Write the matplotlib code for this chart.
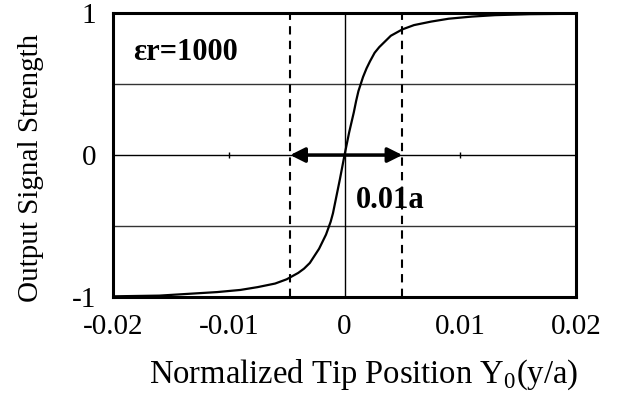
import numpy as np
from matplotlib import pyplot as plt

# curve
tip_pos = [-0.02, -0.016, -0.013, -0.011, -0.009, -0.0075, -0.006, -0.005, -0.004,
           -0.0035, -0.003, -0.0026, -0.0022, -0.0019, -0.0016, -0.0012, -0.001,
           -0.0008, -0.0006, -0.0004, -0.0002, 0.0, 0.0002, 0.0004, 0.0006, 0.0008,
           0.001, 0.0012, 0.0016, 0.0019, 0.0022, 0.0026, 0.003, 0.0035, 0.004,
           0.005, 0.006, 0.0075, 0.009, 0.011, 0.013, 0.016, 0.02]
signal = [-0.995, -0.99, -0.975, -0.965, -0.95, -0.93, -0.905, -0.875, -0.83,
          -0.80, -0.76, -0.71, -0.66, -0.61, -0.56, -0.47, -0.41,
          -0.33, -0.25, -0.17, -0.085, 0.0, 0.08, 0.16, 0.23, 0.30,
          0.38, 0.45, 0.55, 0.61, 0.66, 0.72, 0.76, 0.80, 0.84,
          0.885, 0.915, 0.94, 0.96, 0.975, 0.985, 0.992, 0.995]

x_ticks = [-0.02, -0.01, 0, 0.01, 0.02]
x_labels = ["-0.02", "-0.01", "0", "0.01", "0.02"]
y_ticks = [-1, 0, 1]
y_labels = ["-1", "0", "1"]
window = [-0.0047, 0.005]   # dashed markers, width 0.01a


def main():
    plt.rcParams["font.family"] = ["Liberation Serif", "DejaVu Serif"]

    fig = plt.figure(figsize=(6.18, 3.95), dpi=100)
    ax = fig.add_axes([0.183, 0.248, 0.749, 0.719])

    ax.set_xlim(-0.02, 0.02)
    ax.set_ylim(-1, 1)

    # grid
    for yv in [0.5, -0.5]:
        ax.axhline(yv, color="#333333", lw=1.0, zorder=1)
    ax.axhline(0, color="black", lw=1.0, zorder=1)
    ax.axvline(0, color="black", lw=1.0, zorder=1)
    ax.plot([-0.01, 0.01], [0, 0], ls="none", marker="|", ms=5, color="black",
            markeredgewidth=1.0, zorder=1)

    for xv in window:
        ax.axvline(xv, color="black", lw=1.5, ls=(0, (4, 3)), zorder=2)

    ax.plot(tip_pos, signal, color="black", lw=1.6, zorder=3)

    ax.annotate("", xy=(window[0], 0), xytext=(window[1], 0),
                arrowprops=dict(arrowstyle="<|-|>", color="black", lw=2.5,
                                mutation_scale=22, shrinkA=0, shrinkB=0),
                zorder=4)

    ax.text(0.001, -0.32, "0.01a", fontsize=22, fontweight="bold", va="center",
            ha="left")
    ax.text(-0.0183, 0.72, "\u03b5r=1000", fontsize=22, fontweight="bold",
            va="center", ha="left")

    ax.set_xticks(x_ticks)
    ax.set_xticklabels(x_labels)
    ax.set_yticks(y_ticks)
    ax.set_yticklabels(y_labels)
    ax.tick_params(axis="both", length=0, labelsize=21)
    ax.tick_params(axis="x", pad=12)
    ax.tick_params(axis="y", pad=12)

    for sp in ax.spines.values():
        sp.set_linewidth(2.2)

    ax.set_xlabel("Normalized Tip Position Y$_{\\mathregular{0}}$(y/a)",
                  fontsize=23.5, labelpad=13, x=0.542)
    ax.set_ylabel("Output Signal Strength", fontsize=21, labelpad=20, y=0.455)

    fig.savefig("out.png", dpi=100)


if __name__ == "__main__":
    main()
